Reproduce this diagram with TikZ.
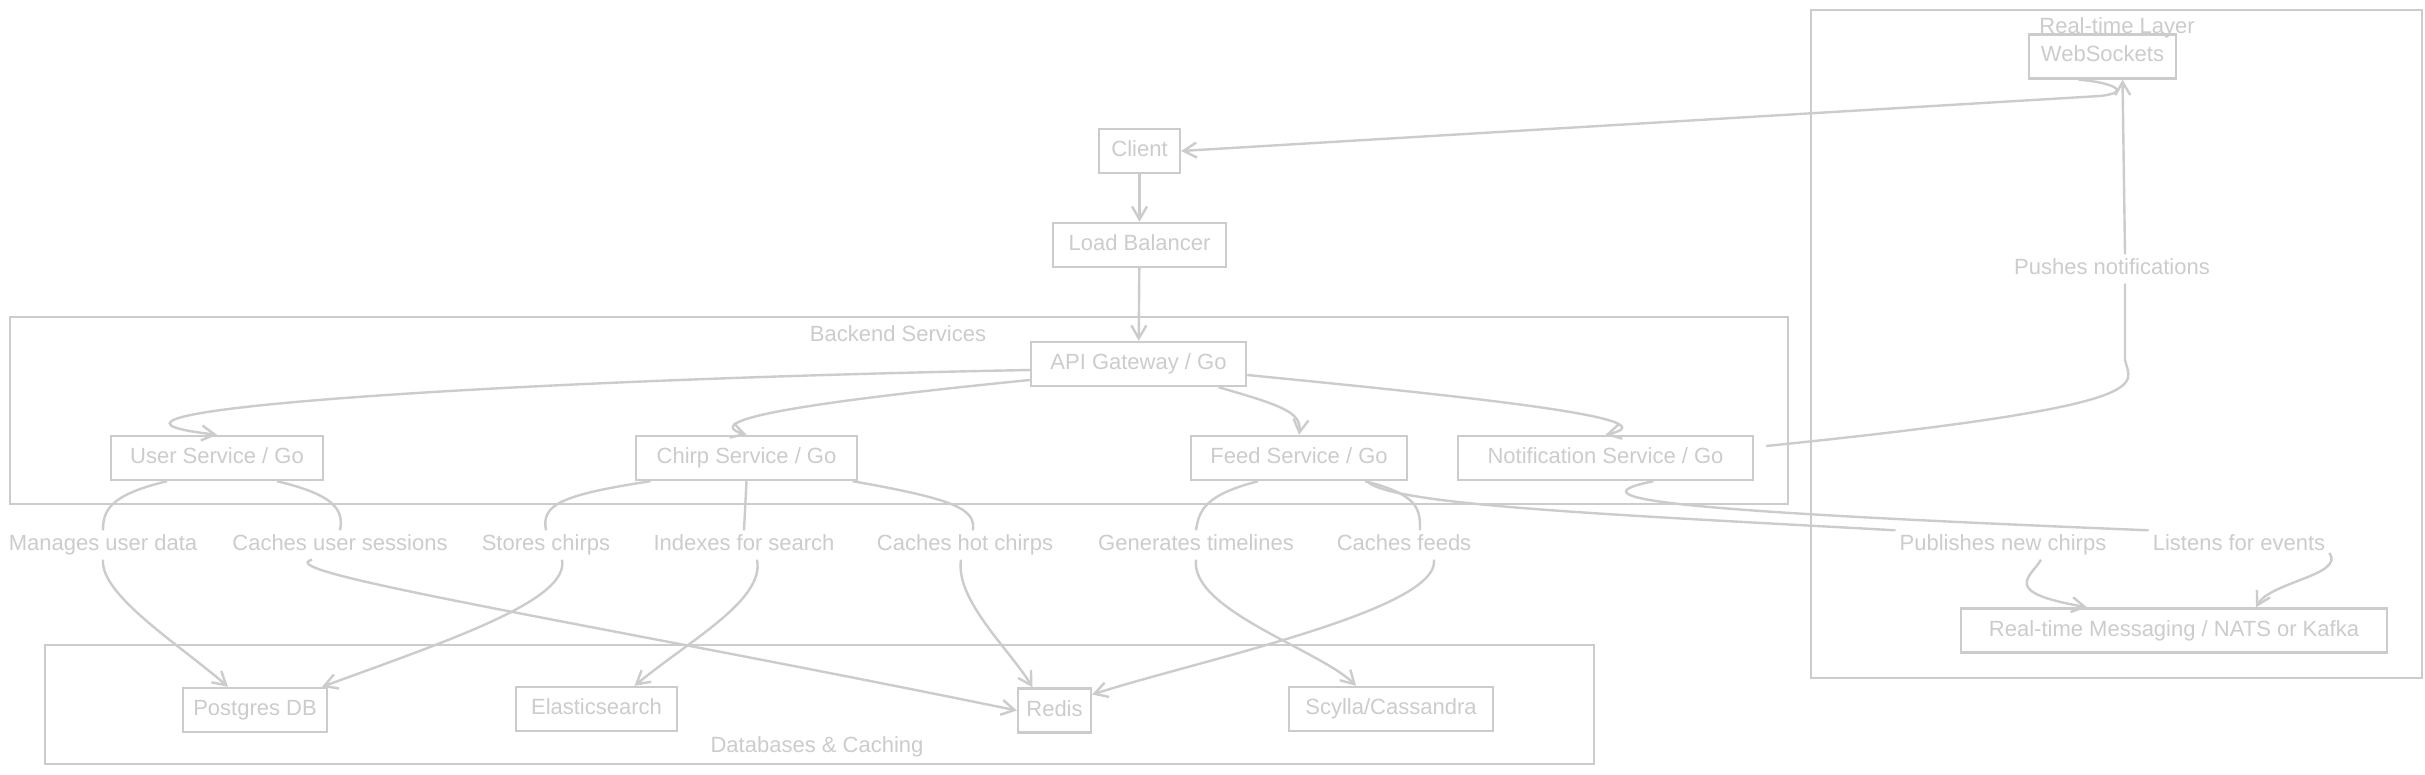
\documentclass[tikz,border=0pt]{standalone}
\usepackage{fontspec}
\setmainfont{Liberation Sans}
\usetikzlibrary{arrows.meta}

\begin{document}
\begin{tikzpicture}[x=1pt, y=-1pt, line width=2.4pt, color=gray!40,
	font=\fontsize{22}{26}\selectfont,
	>={Straight Barb[length=13pt, width=15pt]},
	main/.style = {draw, minimum height=44pt, inner sep=0pt, text height=16pt, text depth=5pt},
	group/.style = {draw, inner sep=0pt},
	lbl/.style = {fill=white, inner sep=3pt, text height=16pt, text depth=5pt}]
	\fill[white] (0,0) rectangle (2425,775);
	\useasboundingbox (0,0) rectangle (2425,775);

	\node[group, minimum width=611pt, minimum height=668pt] (rt) at (2116.5,344) {};
	\node[group, minimum width=1778pt, minimum height=187pt] (be) at (899,410.5) {};
	\node[group, minimum width=1549pt, minimum height=119pt] (dbc) at (819.5,704.5) {};
	\node (rttitle) at (2117,28) {Real-time Layer};
	\node (betitle) at (898,334) {Backend Services};
	\node (dbtitle) at (817,747) {Databases \& Caching};

	\node[main, minimum width=147pt] (ws) at (2102.5,56.5) {WebSockets};
	\node[main, minimum width=81pt] (client) at (1139.5,151) {Client};
	\node[main, minimum width=173pt] (lb) at (1139.5,245) {Load Balancer};
	\node[main, minimum width=215pt] (api) at (1138.5,364) {API Gateway / Go};
	\node[main, minimum width=212pt] (us) at (217,458) {User Service / Go};
	\node[main, minimum width=221pt] (chirp) at (746.5,458) {Chirp Service / Go};
	\node[main, minimum width=216pt] (feed) at (1299,458) {Feed Service / Go};
	\node[main, minimum width=295pt] (notif) at (1605.5,458) {Notification Service / Go};
	\node[main, minimum width=144pt] (pg) at (255,710) {Postgres DB};
	\node[main, minimum width=161pt] (es) at (596.5,709) {Elasticsearch};
	\node[main, minimum width=73pt] (redis) at (1054.5,710.5) {Redis};
	\node[main, minimum width=204pt] (scylla) at (1391,709) {Scylla/Cassandra};
	\node[main, minimum width=426pt] (msg) at (2174,630.5) {Real-time Messaging / NATS or Kafka};

	\node[lbl] (l1) at (103,545) {Manages user data};
	\node[lbl] (l2) at (340,545) {Caches user sessions};
	\node[lbl] (l3) at (546,545) {Stores chirps};
	\node[lbl] (l4) at (744,545) {Indexes for search};
	\node[lbl] (l5) at (965,545) {Caches hot chirps};
	\node[lbl] (l6) at (1196,545) {Generates timelines};
	\node[lbl] (l7) at (1404,545) {Caches feeds};
	\node[lbl] (l8) at (2003,545) {Publishes new chirps};
	\node[lbl] (l9) at (2239,545) {Listens for events};
	\node[lbl] (l10) at (2112,269) {Pushes notifications};

	\draw[->] ([xshift=-24pt]ws.south) .. controls (2110,82) and (2135,92) .. (2100,96) -- (client.east);
	\draw[->] (client) -- (lb);
	\draw[->] (lb) -- (api);
	\draw[->] ([yshift=-6pt]api.west) .. controls (500,380) and (20,412) .. (us.north);
	\draw[->] ([yshift=-16pt]api.west) .. controls (850,398) and (690,418) .. (chirp.north);
	\draw[->] ([xshift=80pt]api.south) .. controls (1280,405) and (1302,412) .. (feed.north);
	\draw[->] ([yshift=-11pt]api.east) .. controls (1450,395) and (1680,418) .. (notif.north);

	\draw[->] ([xshift=-50pt]us.south) .. controls (110,495) and (103,510) .. (l1.north)
		(l1.south) .. controls (100,595) and (180,645) .. ([xshift=-27pt]pg.north);
	\draw[->] ([xshift=60pt]us.south) .. controls (335,495) and (344,510) .. (l2.north)
		([xshift=-28pt]l2.south) .. controls (265,572) and (600,625) .. (redis.west);
	\draw[->] ([xshift=-96pt]chirp.south) .. controls (560,495) and (541,505) .. (l3.north)
		([xshift=16pt]l3.south) .. controls (570,600) and (450,640) .. ([xshift=67pt]pg.north);
	\draw[->] (chirp.south) -- (l4.north)
		([xshift=13pt]l4.south) .. controls (765,600) and (690,640) .. ([xshift=38pt]es.north);
	\draw[->] ([xshift=106pt]chirp.south) .. controls (960,500) and (975,510) .. ([xshift=8pt]l5.north)
		([xshift=-4pt]l5.south) .. controls (955,600) and (1010,650) .. ([xshift=-22pt]redis.north);
	\draw[->] ([xshift=-41pt]feed.south) .. controls (1205,495) and (1199,510) .. (l6.north)
		(l6.south) .. controls (1190,610) and (1320,650) .. ([xshift=-35pt]scylla.north);
	\draw[->] ([xshift=66pt]feed.south) .. controls (1420,495) and (1420,510) .. ([xshift=16pt]l7.north)
		([xshift=30pt]l7.south) .. controls (1440,610) and (1200,660) .. ([yshift=16pt]redis.east);
	\draw[->] ([xshift=68pt]feed.south) .. controls (1390,505) and (1600,514) .. (l8.north west)
		([xshift=38pt]l8.south) .. controls (2030,578) and (2000,592) .. ([xshift=-87pt]msg.north);
	\draw[->] ([xshift=48pt]notif.south) .. controls (1560,500) and (1700,512) .. (l9.north west)
		([yshift=-8pt]l9.east) .. controls (2345,575) and (2270,582) .. ([xshift=82pt]msg.north);
	\draw[->] ([xshift=12pt, yshift=12pt]notif.east) .. controls (2170,405) and (2130,385) .. (2125,360) -- ([xshift=13pt]l10.south)
		([xshift=13pt]l10.north) -- ([xshift=20pt]ws.south);
\end{tikzpicture}
\end{document}
